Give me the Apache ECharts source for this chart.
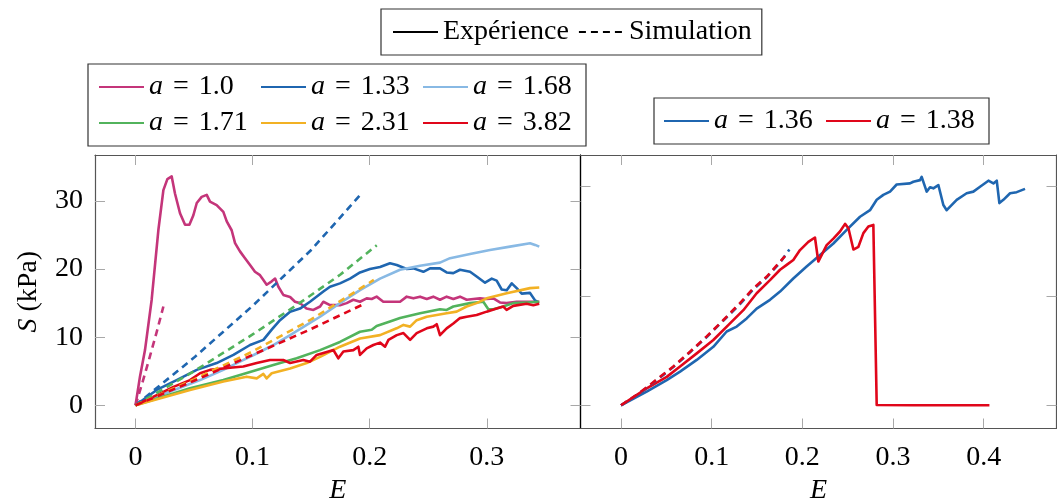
<!DOCTYPE html>
<html>
<head>
<meta charset="utf-8">
<script src="https://cdn.jsdelivr.net/npm/echarts@6/dist/echarts.min.js"></script>
<style>
html,body{margin:0;padding:0;background:#fff;}
#c{width:1057px;height:500px;}
</style>
</head>
<body>
<div id="c"></div>
<script>
// ---------- data (left panel) ----------
const E_a100 = [0,0.0038,0.0081,0.0138,0.0195,0.0238,0.0272,0.0309,0.0337,0.038,0.0423,0.046,0.0494,0.0523,0.0565,0.0608,0.0636,0.0693,0.075,0.0779,0.0821,0.085,0.0892,0.0935,0.0978,0.102,0.1063,0.1092,0.112,0.1163,0.1192,0.122,0.1262,0.132,0.1362,0.1405,0.146,0.1519,0.1576,0.1604,0.1661,0.1746,0.1803,0.186,0.1917,0.1974,0.2017,0.2059,0.2116,0.2202,0.2259,0.2316,0.2373,0.243,0.2487,0.2543,0.26,0.2657,0.2714,0.2771,0.2828,0.2885,0.2942,0.2999,0.3056,0.3112,0.3169,0.3255,0.334,0.3448];
const S_a100 = [0,4.2,8.1,15.5,25.7,31.6,33.2,33.6,31.1,28.2,26.5,26.5,27.9,29.7,30.6,30.9,29.9,29.4,28.4,27.0,25.7,23.8,22.6,21.6,20.6,19.6,19.1,18.4,17.7,18.2,18.6,17.4,16.2,15.9,15.2,15.0,14.2,14.0,14.5,15.2,14.7,14.7,15.0,15.5,15.2,15.7,15.6,15.95,15.2,15.2,15.2,15.95,15.7,15.95,15.6,15.95,15.5,15.95,15.6,15.95,15.5,15.6,15.7,15.6,15.7,15.1,15.0,15.2,15.2,15.2];
const E_a100_sim = [0,0.006,0.012,0.018,0.0238];
const S_a100_sim = [0,3.4,7.0,10.7,14.5];

const E_a133 = [0,0.0181,0.0351,0.0523,0.0693,0.0836,0.0978,0.1092,0.1163,0.1234,0.132,0.1405,0.149,0.1604,0.1661,0.1746,0.1832,0.1917,0.2002,0.2088,0.2173,0.2231,0.2316,0.2373,0.2458,0.2515,0.26,0.2657,0.2714,0.2771,0.2857,0.2913,0.2985,0.3042,0.3084,0.3127,0.317,0.3213,0.3255,0.3298,0.3369,0.3412,0.3432];
const S_a133 = [0,2.25,3.7,5.2,6.2,7.4,8.85,9.6,11.1,12.5,13.75,14.2,15.2,16.7,17.4,17.9,18.6,19.5,20.0,20.3,20.85,20.6,20.0,20.1,19.6,20.1,20.1,19.5,19.4,19.9,19.6,18.9,18.0,18.6,18.3,17.0,16.9,17.9,17.2,16.4,16.5,15.4,15.2];
const E_a133_sim = [0,0.05,0.1,0.15,0.193];
const S_a133_sim = [0,7.0,14.6,22.8,31.1];

const E_a168 = [0,0.0324,0.0551,0.075,0.0892,0.1035,0.1177,0.132,0.1462,0.1576,0.1746,0.1917,0.2088,0.2259,0.243,0.26,0.2686,0.2857,0.3027,0.3198,0.3369,0.3412,0.3448];
const S_a168 = [0,2.2,3.7,5.2,6.4,7.6,8.85,10.3,11.8,13.0,15.0,16.9,18.6,19.9,20.5,20.95,21.6,22.2,22.8,23.3,23.8,23.55,23.3];

const E_a171 = [0,0.0465,0.075,0.0978,0.1177,0.1376,0.1576,0.1746,0.1917,0.2017,0.2059,0.2173,0.2259,0.243,0.26,0.2657,0.2714,0.2857,0.297,0.3013,0.3056,0.3141,0.3226,0.334,0.3448];
const S_a171 = [0,2.5,3.7,4.9,5.9,6.9,8.1,9.3,10.8,11.1,11.65,12.3,12.8,13.5,14.1,14.0,14.5,15.0,15.2,14.1,14.1,14.5,15.0,15.1,15.2];
const E_a171_sim = [0,0.05,0.1,0.14,0.175,0.206];
const S_a171_sim = [0,5.0,10.4,15.0,19.2,23.5];

const E_a231 = [0,0.0465,0.075,0.0949,0.1035,0.1092,0.112,0.1163,0.132,0.1462,0.1576,0.1746,0.1917,0.2088,0.223,0.2288,0.2345,0.2401,0.2487,0.2657,0.2742,0.2828,0.2913,0.2999,0.317,0.3369,0.3448];
const S_a231 = [0,2.25,3.5,4.2,3.95,4.6,3.95,4.7,5.4,6.2,7.1,8.6,9.8,10.3,11.3,11.8,11.55,12.5,13.0,13.5,13.75,14.5,15.0,15.7,16.45,17.2,17.3];
const E_a231_sim = [0,0.05,0.1,0.15,0.2035];
const S_a231_sim = [0,3.8,7.9,12.6,18.4];

const E_a382 = [0,0.0181,0.0324,0.0465,0.0551,0.0636,0.0807,0.0921,0.1035,0.1149,0.1262,0.132,0.1433,0.149,0.1547,0.169,0.1732,0.1775,0.186,0.1903,0.1917,0.1974,0.2031,0.2088,0.2131,0.216,0.2231,0.2288,0.2345,0.2401,0.2487,0.2543,0.2572,0.26,0.2657,0.2714,0.2771,0.2828,0.2913,0.2999,0.3084,0.3141,0.3169,0.3226,0.334,0.3397,0.3448];
const S_a382 = [0,1.5,2.7,3.7,4.7,5.2,5.5,5.7,6.2,6.65,6.65,6.2,6.65,6.4,7.4,8.1,6.9,7.9,8.1,8.6,7.4,8.35,8.85,9.2,8.6,9.6,10.3,10.6,9.6,10.6,11.3,11.55,11.9,10.3,11.3,12.0,12.8,13.0,13.25,13.75,14.2,14.5,14.0,14.6,14.9,14.7,14.9];
const E_a382_sim = [0,0.05,0.1,0.15,0.193];
const S_a382_sim = [0,3.6,7.4,11.2,14.7];

// ---------- data (right panel) ----------
const E_a136 = [0,0.0283,0.0504,0.0651,0.0835,0.1018,0.1165,0.1276,0.1386,0.1496,0.1643,0.1754,0.19,0.2047,0.2195,0.2342,0.2489,0.2636,0.2746,0.282,0.2893,0.2967,0.304,0.3187,0.3224,0.3298,0.3316,0.3371,0.3408,0.3445,0.35,0.3555,0.3592,0.3702,0.3812,0.3886,0.396,0.4052,0.4107,0.4144,0.4173,0.4217,0.4291,0.4364,0.4456];
const S_a136 = [0,2.5,4.6,6.15,8.3,10.7,13.5,14.4,15.9,17.7,19.3,20.8,23.2,25.4,27.5,29.6,32.1,34.5,35.7,37.6,38.5,39.1,40.4,40.6,40.9,41.2,41.8,39.1,39.9,39.7,40.3,36.65,35.7,37.6,38.8,39.1,40.0,41.1,40.6,41.1,37.0,37.6,38.8,39.0,39.6];
const E_a136_sim = [0,0.0173,0.0338,0.0577,0.0761,0.0945,0.1129,0.1312,0.1459,0.1606,0.1754,0.1857];
const S_a136_sim = [0,1.8,3.9,7.0,9.7,12.5,15.5,18.5,21.2,23.4,26.1,28.5];

const E_a138 = [0,0.0283,0.0504,0.0651,0.0835,0.1018,0.1202,0.1349,0.1496,0.1643,0.1754,0.1827,0.19,0.1974,0.2066,0.2139,0.2176,0.2268,0.2342,0.2415,0.2471,0.2508,0.2563,0.2618,0.2673,0.2728,0.2783,0.282,0.3224,0.4063];
const S_a138 = [0,3.1,5.2,7.1,9.5,11.95,15.0,17.4,20.5,22.9,24.8,25.7,26.6,28.4,29.9,30.7,26.3,29.3,30.5,31.8,33.2,32.4,28.5,29.0,31.5,32.7,33.0,0.05,0,0];
const E_a138_sim = [0,0.0173,0.0338,0.0577,0.0761,0.0945,0.1129,0.1312,0.1459,0.1606,0.1754,0.1809];
const S_a138_sim = [0,1.9,4.0,7.1,9.8,12.6,15.6,18.7,21.4,23.5,26.3,27.3];

// ---------- tick values ----------
const leftXTicks = [0,0.1,0.2,0.3];
const leftYTicks = [0,10,20,30];
const rightXTicks = [0,0.1,0.2,0.3,0.4];
const rightYTicks = [0,20,40];

const COL = {
  a100:'#c4357a', a133:'#1f66b0', a168:'#88b9e4',
  a171:'#52b35c', a231:'#f2b124', a382:'#e0061a'
};
const FONT = 'Liberation Serif';
const zip = (xs, ys) => xs.map((x,i)=>[x, ys[i]]);

function lineSeries(name, xs, ys, color, dashed, xi, yi){
  return {
    type:'line', name:name, data:zip(xs,ys), xAxisIndex:xi, yAxisIndex:yi,
    symbol:'none', smooth:false, animation:false, clip:true,
    lineStyle:{color:color, width:2.6, type: dashed ? [7,5] : 'solid', join:'round', cap:'butt'},
    itemStyle:{color:color}, emphasis:{disabled:true}
  };
}

const tickStyle = {show:true, inside:true, length:10, lineStyle:{color:'#a8a8a8', width:1}};
const lineAxis = (c)=>({show:true, onZero:false, lineStyle:{color:c, width:1.2}});

function xAx(grid, pos, min, max, ticks, labels){
  return {
    type:'value', gridIndex:grid, position:pos, min:min, max:max,
    axisLine:lineAxis('#555'),
    axisTick:Object.assign({customValues:ticks}, tickStyle),
    axisLabel:{show:labels, customValues:ticks, fontFamily:FONT, fontSize:28, color:'#000', margin:15,
      formatter:v=> v===0 ? '0' : String(v)},
    splitLine:{show:false},
    name: (labels ? '{i|E}' : ''), nameLocation:'middle', nameGap:46,
    nameTextStyle:{fontFamily:FONT, fontSize:28, color:'#000', rich:{i:{fontStyle:'italic', fontFamily:FONT, fontSize:28}}}
  };
}
function yAx(grid, pos, min, max, ticks, labels, name, lineColor){
  return {
    type:'value', gridIndex:grid, position:pos, min:min, max:max,
    axisLine:lineAxis(lineColor),
    axisTick:Object.assign({customValues:ticks}, tickStyle),
    axisLabel:{show:labels, customValues:ticks, fontFamily:FONT, fontSize:28, color:'#000', margin:12},
    splitLine:{show:false},
    name:name, nameLocation:'middle', nameGap:52, nameRotate:90,
    nameTextStyle:{fontFamily:FONT, fontSize:28, color:'#000', rich:{i:{fontStyle:'italic', fontFamily:FONT, fontSize:28}}}
  };
}

const aFormatter = name => '{i|a}{e|=}' + name.split('= ')[1];
const legendRich = {
  i:{fontStyle:'italic', fontFamily:FONT, fontSize:28, lineHeight:27, color:'#000'},
  e:{fontFamily:FONT, fontSize:28, lineHeight:27, padding:[0,10,0,10], color:'#000'}
};
const hiddenSymbol = {color:'rgba(0,0,0,0)', borderColor:'rgba(0,0,0,0)', borderWidth:0, opacity:0};

const series = [
  lineSeries('a = 1.0', E_a100, S_a100, COL.a100, false, 0, 0),
  lineSeries('a = 1.33', E_a133, S_a133, COL.a133, false, 0, 0),
  lineSeries('a = 1.68', E_a168, S_a168, COL.a168, false, 0, 0),
  lineSeries('a = 1.71', E_a171, S_a171, COL.a171, false, 0, 0),
  lineSeries('a = 2.31', E_a231, S_a231, COL.a231, false, 0, 0),
  lineSeries('a = 3.82', E_a382, S_a382, COL.a382, false, 0, 0),
  lineSeries('sim 1.0', E_a100_sim, S_a100_sim, COL.a100, true, 0, 0),
  lineSeries('sim 1.33', E_a133_sim, S_a133_sim, COL.a133, true, 0, 0),
  lineSeries('sim 1.71', E_a171_sim, S_a171_sim, COL.a171, true, 0, 0),
  lineSeries('sim 2.31', E_a231_sim, S_a231_sim, COL.a231, true, 0, 0),
  lineSeries('sim 3.82', E_a382_sim, S_a382_sim, COL.a382, true, 0, 0),
  lineSeries('a = 1.36', E_a136, S_a136, COL.a133, false, 2, 2),
  lineSeries('a = 1.38', E_a138, S_a138, COL.a382, false, 2, 2),
  lineSeries('sim 1.36', E_a136_sim, S_a136_sim, COL.a133, true, 2, 2),
  lineSeries('sim 1.38', E_a138_sim, S_a138_sim, COL.a382, true, 2, 2),
  lineSeries('Expérience', [], [], '#000', false, 0, 0),
  lineSeries('Simulation', [], [], '#000', true, 0, 0)
];

const chart = echarts.init(document.getElementById('c'), null, {renderer:'canvas'});
chart.setOption({
  backgroundColor:'#fff',
  animation:false,
  textStyle:{fontFamily:FONT},
  grid:[
    {left:95, top:155, width:485.5, height:273.5, show:false, containLabel:false, outerBoundsMode:'none'},
    {left:580.5, top:155, width:476, height:273.5, show:false, containLabel:false, outerBoundsMode:'none'}
  ],
  xAxis:[
    xAx(0,'bottom',-0.0346,0.380,leftXTicks,true),
    xAx(0,'top',-0.0346,0.380,leftXTicks,false),
    xAx(1,'bottom',-0.0447,0.4803,rightXTicks,true),
    xAx(1,'top',-0.0447,0.4803,rightXTicks,false)
  ],
  yAxis:[
    yAx(0,'left',-3.41,36.75,leftYTicks,true,'{i|S} (kPa)','#555'),
    yAx(0,'right',-3.41,36.75,leftYTicks,false,'','#000'),
    yAx(1,'left',-4.25,45.8,rightYTicks,false,'','#000'),
    yAx(1,'right',-4.25,45.8,rightYTicks,false,'','#555')
  ],
  legend:[
    {
      data:['Expérience','Simulation'], left:381, top:9, orient:'horizontal',
      padding:[8,10,8,11], itemWidth:45, itemHeight:14, itemGap:9,
      backgroundColor:'#fff', borderColor:'#333', borderWidth:1.2, borderRadius:0,
      selectedMode:false, itemStyle:hiddenSymbol,
      textStyle:{fontFamily:FONT, fontSize:28, color:'#000', lineHeight:30}
    },
    {
      data:['a = 1.0','a = 1.33','a = 1.68','','a = 1.71','a = 2.31','a = 3.82'],
      left:88, top:64, orient:'horizontal',
      padding:[9,10,9,10], itemWidth:45, itemHeight:14, itemGap:8,
      backgroundColor:'#fff', borderColor:'#333', borderWidth:1.2, borderRadius:0,
      selectedMode:false, formatter:aFormatter, itemStyle:hiddenSymbol,
      textStyle:{fontFamily:FONT, fontSize:28, color:'#000', lineHeight:27, width:103, rich:legendRich}
    },
    {
      data:['a = 1.36','a = 1.38'],
      left:654, top:98, orient:'horizontal',
      padding:[9,10,9,9], itemWidth:45, itemHeight:14, itemGap:8,
      backgroundColor:'#fff', borderColor:'#333', borderWidth:1.2, borderRadius:0,
      selectedMode:false, formatter:aFormatter, itemStyle:hiddenSymbol,
      textStyle:{fontFamily:FONT, fontSize:28, color:'#000', lineHeight:27, width:103, rich:legendRich}
    }
  ],
  series:series
});
</script>
</body>
</html>
